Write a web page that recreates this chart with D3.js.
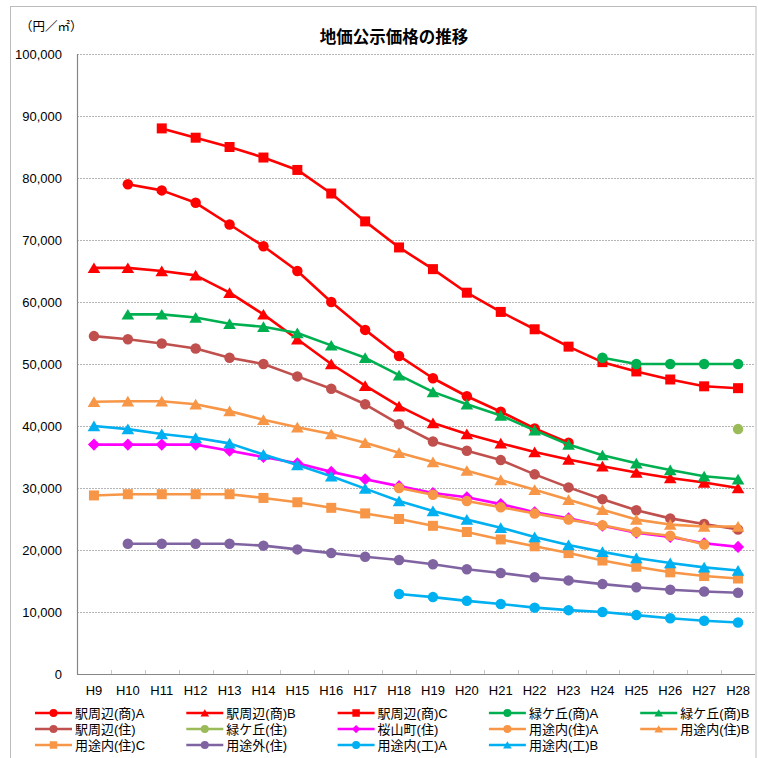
<!DOCTYPE html>
<html>
<head>
<meta charset="utf-8">
<script src="https://cdn.jsdelivr.net/npm/d3@7"></script>
<style>
  html, body { margin: 0; padding: 0; background: #fff; }
  svg { display: block; }
  text { font-family: "Liberation Sans", Arial, "Noto Sans CJK JP", sans-serif; fill: #000; }
</style>
</head>
<body>
<svg id="chart" width="758" height="758"></svg>
<script>
// 年度（平成）
const years = ["H9","H10","H11","H12","H13","H14","H15","H16","H17","H18",
               "H19","H20","H21","H22","H23","H24","H25","H26","H27","H28"];

// 地点別の公示価格（円／㎡）、null は調査なし
const ekiShoA  = [null,79000,78000,76000,72500,69000,65000,60000,55500,51300,47700,44800,42300,39600,37300,null,null,null,null,null];
const ekiShoB  = [65500,65500,65000,64300,61500,58000,54000,50000,46500,43200,40500,38700,37200,35800,34600,33500,32500,31600,30900,30000];
const ekiShoC  = [null,null,88000,86500,85000,83300,81300,77500,73000,68800,65300,61500,58400,55600,52800,50300,48800,47500,46400,46100];
const midoriShoA = [null,null,null,null,null,null,null,null,null,null,null,null,null,null,null,51000,50000,50000,50000,50000];
const midoriShoB = [null,58000,58000,57500,56500,56000,55000,53000,51000,48200,45500,43500,41700,39300,37000,35300,34000,32900,31900,31400];
const ekiJu    = [54500,54000,53300,52500,51000,50000,48000,46000,43500,40300,37500,36000,34500,32200,30100,28200,26400,25100,24200,23300];
const midoriJu = [null,null,null,null,null,null,null,null,null,null,null,null,null,null,null,null,null,null,null,39500];
const sakurayamaJu = [37000,37000,37000,37000,36000,35000,34000,32600,31400,30300,29200,28500,27400,26100,25100,23900,22800,22100,21100,20500];
const youtoJuA = [null,null,null,null,null,null,null,null,null,30000,28900,27900,26900,25900,24900,24000,22900,22300,20900,null];
const youtoJuB = [43900,44000,44000,43500,42400,41000,39800,38700,37300,35700,34200,32800,31300,29700,28100,26500,24900,24100,23800,23800];
const youtoJuC = [28800,29000,29000,29000,29000,28400,27700,26800,25900,25000,23900,22900,21700,20600,19500,18300,17300,16400,15800,15400];
const youtoGaiJu = [null,21000,21000,21000,21000,20700,20100,19500,18900,18400,17700,16900,16300,15600,15100,14500,14000,13600,13300,13100];
const youtoKoA = [null,null,null,null,null,null,null,null,null,12900,12400,11800,11300,10700,10300,10000,9500,9000,8600,8300];
const youtoKoB = [40000,39500,38700,38100,37200,35400,33700,31900,29900,27900,26300,24900,23600,22100,20800,19700,18700,17900,17200,16700];

const seriesNames = ["駅周辺(商)A","駅周辺(商)B","駅周辺(商)C","緑ケ丘(商)A","緑ケ丘(商)B",
                     "駅周辺(住)","緑ケ丘(住)","桜山町(住)","用途内(住)A","用途内(住)B",
                     "用途内(住)C","用途外(住)","用途内(工)A","用途内(工)B"];
const seriesValues = [ekiShoA, ekiShoB, ekiShoC, midoriShoA, midoriShoB,
                      ekiJu, midoriJu, sakurayamaJu, youtoJuA, youtoJuB,
                      youtoJuC, youtoGaiJu, youtoKoA, youtoKoB];
const seriesColors = ["#FF0000","#FF0000","#FF0000","#00B050","#00B050",
                      "#C0504D","#9BBB59","#FF00FF","#F79646","#F79646",
                      "#F79646","#8064A2","#00B0F0","#00B0F0"];
const seriesMarkers = ["circle","triangle","square","circle","triangle",
                       "circle","circle","diamond","circle","triangle",
                       "square","circle","circle","triangle"];

const yTicks = d3.range(0, 100001, 10000);
const titleText = "地価公示価格の推移";
const unitText = "（円／㎡）";

const svg = d3.select("#chart");

// 外枠
svg.append("rect")
  .attr("x", 10.5).attr("y", 6.5).attr("width", 745.5).attr("height", 770)
  .attr("fill", "#fff").attr("stroke", "#bcbcbc").attr("stroke-width", 1);

const plot = { left: 77, right: 755, top: 54, bottom: 674 };

const x = d3.scaleBand().domain(years).range([plot.left, plot.right]);
const cx = d => x(d) + x.bandwidth() / 2;
const y = d3.scaleLinear().domain([0, 100000]).range([plot.bottom, plot.top]);

// 目盛線
svg.append("g")
  .selectAll("line")
  .data(yTicks.filter(v => v > 0))
  .join("line")
  .attr("x1", plot.left).attr("x2", plot.right)
  .attr("y1", d => Math.round(y(d)) + 0.5).attr("y2", d => Math.round(y(d)) + 0.5)
  .attr("stroke", "#b5b5b5").attr("stroke-width", 1).attr("stroke-dasharray", "2,1");

// Y軸ラベル
const yAxis = d3.axisLeft(y).tickValues(yTicks).tickFormat(d3.format(",")).tickSize(0).tickPadding(0);
const gy = svg.append("g").attr("transform", `translate(${plot.left - 15},0)`).call(yAxis);
gy.select(".domain").remove();
gy.selectAll("text").attr("font-size", 13).attr("font-family", "'Liberation Sans', Arial, sans-serif").attr("fill", "#000");

// X軸ラベル
const xAxis = d3.axisBottom(x).tickSize(0).tickPadding(0);
const gx = svg.append("g").attr("transform", `translate(0,${plot.bottom + 12})`).call(xAxis);
gx.select(".domain").remove();
gx.selectAll("text").attr("font-size", 13).attr("font-family", "'Liberation Sans', Arial, sans-serif").attr("fill", "#000");

// 軸線と区切り目盛
const axisColor = "#868686";
svg.append("line")
  .attr("x1", plot.left + 0.5).attr("x2", plot.left + 0.5)
  .attr("y1", plot.top).attr("y2", plot.bottom + 0.5)
  .attr("stroke", axisColor).attr("stroke-width", 1.2);
svg.append("line")
  .attr("x1", plot.left).attr("x2", plot.right)
  .attr("y1", plot.bottom + 0.5).attr("y2", plot.bottom + 0.5)
  .attr("stroke", axisColor).attr("stroke-width", 1.2);
svg.append("g")
  .selectAll("line")
  .data(years.slice(1))
  .join("line")
  .attr("x1", d => Math.round(x(d)) + 0.5).attr("x2", d => Math.round(x(d)) + 0.5)
  .attr("y1", plot.bottom).attr("y2", plot.bottom - 4)
  .attr("stroke", "#c8c8c8").attr("stroke-width", 1);

// マーカー形状
function markerPath(type, s) {
  const h = s / 2;
  switch (type) {
    case "square": return `M${-h},${-h}H${h}V${h}H${-h}Z`;
    case "triangle": return `M0,${-h * 1.0}L${h * 1.15},${h * 0.95}L${-h * 1.15},${h * 0.95}Z`;
    case "diamond": return `M0,${-h * 1.1}L${h * 1.1},0L0,${h * 1.1}L${-h * 1.1},0Z`;
    default: return d3.arc()({ innerRadius: 0, outerRadius: h, startAngle: 0, endAngle: 2 * Math.PI });
  }
}

// 系列
const line = d3.line()
  .defined(d => d.v != null)
  .x(d => cx(d.year))
  .y(d => y(d.v));

seriesValues.forEach((vals, i) => {
  const pts = years.map((yr, j) => ({ year: yr, v: vals[j] }));
  const g = svg.append("g");
  g.append("path")
    .datum(pts)
    .attr("d", line)
    .attr("fill", "none")
    .attr("stroke", seriesColors[i])
    .attr("stroke-width", 2.6)
    .attr("stroke-linejoin", "round");
  const size = seriesMarkers[i] === "circle" ? 10.5 : seriesMarkers[i] === "square" ? 10 : 11;
  g.selectAll("path.m")
    .data(pts.filter(d => d.v != null))
    .join("path")
    .attr("class", "m")
    .attr("transform", d => `translate(${cx(d.year)},${y(d.v)})`)
    .attr("d", markerPath(seriesMarkers[i], size))
    .attr("fill", seriesColors[i]);
});

// タイトル
svg.append("text")
  .attr("x", 394).attr("y", 43)
  .attr("text-anchor", "middle")
  .attr("font-family", "'Noto Sans CJK JP', sans-serif")
  .attr("font-weight", "bold")
  .attr("font-size", 16.5)
  .text(titleText);

// 単位
svg.append("text")
  .attr("x", 20).attr("y", 31)
  .attr("font-family", "'Noto Sans CJK JP', sans-serif")
  .attr("font-size", 12.5)
  .text(unitText);

// 凡例
const legendCols = 5;
const legend = svg.append("g");
seriesNames.forEach((name, i) => {
  const col = i % legendCols, row = Math.floor(i / legendCols);
  const lx = 35 + col * 151.3, ly = 713 + row * 16;
  const item = legend.append("g").attr("transform", `translate(${lx},${ly})`);
  item.append("line").attr("x1", 0).attr("x2", 37).attr("y1", 0).attr("y2", 0)
    .attr("stroke", seriesColors[i]).attr("stroke-width", 2.6);
  item.append("path")
    .attr("transform", "translate(18.5,0)")
    .attr("d", markerPath(seriesMarkers[i], seriesMarkers[i] === "circle" ? 8 : 7.5))
    .attr("fill", seriesColors[i]);
  item.append("text")
    .attr("x", 40).attr("y", 0).attr("dy", "0.36em")
    .attr("font-size", 13)
    .attr("font-family", "'Liberation Sans', Arial, 'Noto Sans CJK JP', sans-serif")
    .text(name);
});
</script>
</body>
</html>
